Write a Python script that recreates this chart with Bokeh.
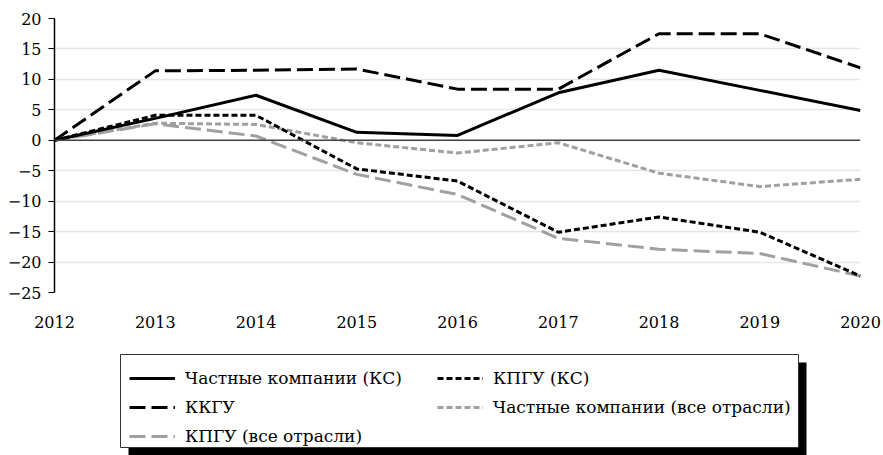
from bokeh.plotting import figure
from bokeh.models import Range1d, FixedTicker, Legend, LegendItem, Span
from bokeh.layouts import column
from bokeh.embed import file_html
from bokeh.resources import INLINE

years = [2012, 2013, 2014, 2015, 2016, 2017, 2018, 2019, 2020]
private_ks = [0, 3.6, 7.4, 1.3, 0.8, 7.8, 11.5, 8.2, 4.9]
kkgu = [0, 11.4, 11.5, 11.7, 8.4, 8.4, 17.5, 17.5, 11.9]
kpgu_ks = [0, 4.1, 4.1, -4.7, -6.7, -15.1, -12.6, -15.1, -22.3]
private_all = [0, 2.8, 2.6, -0.4, -2.1, -0.4, -5.4, -7.6, -6.4]
kpgu_all = [0, 2.7, 0.7, -5.6, -8.9, -16.1, -17.9, -18.6, -22.3]

y_ticks = [-25, -20, -15, -10, -5, 0, 5, 10, 15, 20]
names = ["Частные компании (КС)", "КПГУ (КС)", "ККГУ",
         "Частные компании (все отрасли)", "КПГУ (все отрасли)"]

FONT = "DejaVu Serif"
GRAY = "#a0a0a0"

W = 883
BL, BR = 54, 23
p = figure(width=W, height=345, output_backend="svg", toolbar_location=None,
           x_range=Range1d(2012, 2020), y_range=Range1d(-25, 20),
           min_border_left=BL, min_border_right=BR, min_border_top=18,
           min_border_bottom=53)
p.outline_line_color = None
p.xgrid.grid_line_color = None
p.ygrid.grid_line_color = "#e6e6e6"
p.ygrid.grid_line_width = 1.5
p.ygrid.ticker = FixedTicker(ticks=y_ticks)

p.yaxis.ticker = FixedTicker(ticks=y_ticks)
p.yaxis.major_label_overrides = {t: (str(t).replace("-", "\u2212")) for t in y_ticks}
p.yaxis.axis_line_color = "black"
p.yaxis.axis_line_width = 1.5
p.yaxis.major_tick_line_color = "black"
p.yaxis.major_tick_out = 6
p.yaxis.major_tick_in = 0
p.yaxis.minor_tick_line_color = None
p.yaxis.major_label_text_font = FONT
p.yaxis.major_label_text_font_size = "16px"
p.yaxis.major_label_text_color = "black"
p.yaxis.major_label_standoff = 7

p.xaxis.ticker = FixedTicker(ticks=years)
p.xaxis.axis_line_color = None
p.xaxis.major_tick_line_color = None
p.xaxis.minor_tick_line_color = None
p.xaxis.major_label_text_font = FONT
p.xaxis.major_label_text_font_size = "16px"
p.xaxis.major_label_text_color = "black"
p.xaxis.major_label_standoff = 17

p.add_layout(Span(location=0, dimension="width", line_color="#444444", line_width=1.5))

styles = [
    (private_ks, "black", "solid"),
    (kpgu_ks, "black", "6 3"),
    (kkgu, "black", "16 6"),
    (private_all, GRAY, "6 3"),
    (kpgu_all, GRAY, "16 6"),
]
order = [4, 3, 1, 2, 0]
for i in order:
    vals, col, dash = styles[i]
    p.line(years, vals, line_color=col, line_width=3, line_dash=dash)

# legend panel (x range in page pixels)
LH = 110
lg = figure(width=W, height=LH, output_backend="svg", toolbar_location=None,
            x_range=Range1d(BL, W - BR), y_range=Range1d(0, LH),
            x_axis_type=None, y_axis_type=None,
            min_border_left=BL, min_border_right=BR, min_border_top=0, min_border_bottom=0)
lg.outline_line_color = None
lg.xgrid.grid_line_color = None
lg.ygrid.grid_line_color = None
# shadow and box
lg.quad(left=[128], right=[806], bottom=[0], top=[93], fill_color="black", line_color=None)
lg.quad(left=[120], right=[798], bottom=[8], top=[101], fill_color="white",
        line_color="#333333", line_width=1)

items = []
for i in range(5):
    vals, col, dash = styles[i]
    r = lg.line([years[0]], [vals[0]], line_color=col, line_width=3, line_dash=dash)
    items.append(LegendItem(label=names[i], renderers=[r]))

leg = Legend(items=items, location=(129 - BL, 8), orientation="horizontal", ncols=2,
             border_line_color=None, background_fill_alpha=0,
             label_text_font=FONT, label_text_font_size="17px",
             label_text_color="black",
             glyph_width=46, glyph_height=22, label_height=22, label_standoff=10,
             padding=9, spacing=7, margin=0, label_width=245)
lg.add_layout(leg, "center")

layout = column(p, lg, spacing=0)
open("out.html", "w").write(file_html(layout, INLINE))
